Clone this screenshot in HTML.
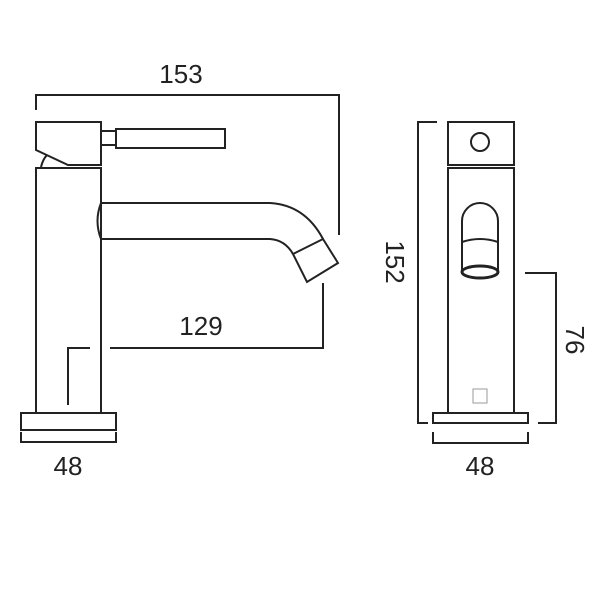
<!DOCTYPE html>
<html><head><style>body{margin:0;background:#fff}svg{display:block}</style></head><body>
<svg width="600" height="600" viewBox="0 0 600 600" xmlns="http://www.w3.org/2000/svg">
<g fill="none" stroke="#222" stroke-width="2">
<path d="M36 110 V95 H339 V235"/>
<path d="M36 122 H101 V165 H68 L36 150 Z"/>
<rect x="101" y="131" width="15" height="14"/>
<rect x="116" y="129" width="109" height="19"/>
<path d="M41 167 Q43 159 47 155"/>
<rect x="36" y="168" width="65" height="245"/>
<path d="M101 203 H270 Q305 205 323 239 M101 239 H270 Q285 240 293 254"/>
<path d="M101 203 Q94 221 101 239"/>
<path d="M293 254 L323 239 L338 263 L307 282 Z"/>
<path d="M323 283 V348 H110 M90 348 H68 V405"/>
<rect x="21" y="413" width="95" height="17"/>
<path d="M21 432 V442 H116 V432"/>
<path d="M437 122 H418 V423 H428"/>
<rect x="448" y="122" width="66" height="43"/>
<circle cx="480" cy="142" r="9"/>
<rect x="448" y="168" width="66" height="245"/>
<path d="M462 272 V221 A18 18 0 0 1 498 221 V272"/>
<path d="M462 242 Q480 236 498 242"/>
<ellipse cx="480" cy="272" rx="18" ry="6" stroke-width="3"/>
<rect x="473" y="389" width="14" height="14" stroke="#999" stroke-width="1"/>
<rect x="433" y="413" width="95" height="10"/>
<path d="M433 432 V443 H528 V432"/>
<path d="M525 273 H556 V423 H538"/>
</g>
<g font-family="Liberation Sans, sans-serif" font-size="26" fill="#222" text-anchor="middle">
<text x="181" y="83">153</text>
<text x="201" y="335">129</text>
<text x="68" y="475">48</text>
<text x="480" y="475">48</text>
<text transform="translate(386 262) rotate(90)">152</text>
<text transform="translate(566 340) rotate(90)">76</text>
</g>
</svg>
</body></html>
